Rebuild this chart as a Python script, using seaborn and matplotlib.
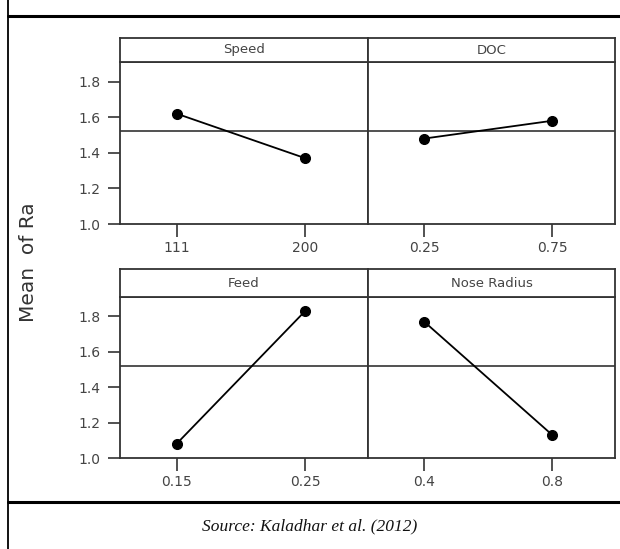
import numpy as np
import pandas as pd
from matplotlib import pyplot as plt
from matplotlib.lines import Line2D
import seaborn as sns

# main effects
speed_levels = ['111', '200']
speed_means = [1.62, 1.37]
doc_levels = ['0.25', '0.75']
doc_means = [1.48, 1.58]
feed_levels = ['0.15', '0.25']
feed_means = [1.08, 1.83]
nose_levels = ['0.4', '0.8']
nose_means = [1.77, 1.13]
grand_mean = 1.52
y_ticks = [1.0, 1.2, 1.4, 1.6, 1.8]
y_tick_labels = ['1.0', '1.2', '1.4', '1.6', '1.8']

sns.set_style('white')
plt.rcParams['font.family'] = ['DejaVu Sans']

W, H = 620, 549
fig = plt.figure(figsize=(W / 100, H / 100), dpi=100)


def px_axes(x0, y0, x1, y1):
    return fig.add_axes([x0 / W, 1 - y1 / H, (x1 - x0) / W, (y1 - y0) / H])


edge = '#333333'
panels = [
    ('Speed', speed_levels, speed_means, (120, 38, 368, 62, 224), True),
    ('DOC', doc_levels, doc_means, (368, 38, 615, 62, 224), False),
    ('Feed', feed_levels, feed_means, (120, 269, 368, 297, 458), True),
    ('Nose Radius', nose_levels, nose_means, (368, 269, 615, 297, 458), False),
]

for name, levels, means, box, show_y in panels:
    x0, top, x1, strip_bottom, bottom = box

    ax = px_axes(x0, strip_bottom, x1, bottom)
    df = pd.DataFrame({'level': levels, 'mean': means})
    sns.pointplot(data=df, x='level', y='mean', order=levels, color='black',
                  markers='o', markersize=7, linewidth=1.3, ax=ax)
    ax.axhline(grand_mean, color=edge, lw=1.2, zorder=1)
    ax.set_ylim(1.0, 1.91)
    ax.set_xlim(-0.44, 1.49)
    ax.set_xlabel('')
    ax.set_ylabel('')
    ax.set_yticks(y_ticks)
    ax.set_yticklabels(y_tick_labels)
    for s in ax.spines.values():
        s.set_visible(True)
        s.set_color(edge)
        s.set_linewidth(1.3)
    ax.tick_params(axis='x', bottom=True, direction='out', length=9, width=1.2,
                   color=edge, pad=3, labelsize=10, labelcolor='#444444')
    if show_y:
        ax.tick_params(axis='y', left=True, direction='out', length=9, width=1.2,
                       color=edge, pad=5, labelsize=10, labelcolor='#444444')
    else:
        ax.tick_params(axis='y', left=False, labelleft=False)

    sax = px_axes(x0, top, x1, strip_bottom)
    sax.set_xticks([])
    sax.set_yticks([])
    for s in sax.spines.values():
        s.set_visible(True)
        s.set_color(edge)
        s.set_linewidth(1.3)
    sax.text(0.5, 0.5, name, ha='center', va='center', fontsize=9.5,
             color='#444444', transform=sax.transAxes)

fig.text(28 / W, 1 - 262 / H, 'Mean  of Ra', rotation=90, ha='center',
         va='center', fontsize=14.5, color='#333333')

# outer frame of the figure box
fig.add_artist(Line2D([8 / W, 8 / W], [0, 1], color='black', lw=1.3,
                      transform=fig.transFigure))
fig.add_artist(Line2D([8 / W, 1], [1 - 16 / H, 1 - 16 / H], color='black', lw=2.2,
                      transform=fig.transFigure))
fig.add_artist(Line2D([8 / W, 1], [1 - 502 / H, 1 - 502 / H], color='black', lw=2.2,
                      transform=fig.transFigure))

fig.text(310 / W, 1 - 526 / H, 'Source: Kaladhar et al. (2012)', ha='center',
         va='center', fontsize=12.5, fontstyle='italic',
         family=['Liberation Serif', 'DejaVu Serif'], color='#111111')

fig.savefig('out.png', dpi=100)
